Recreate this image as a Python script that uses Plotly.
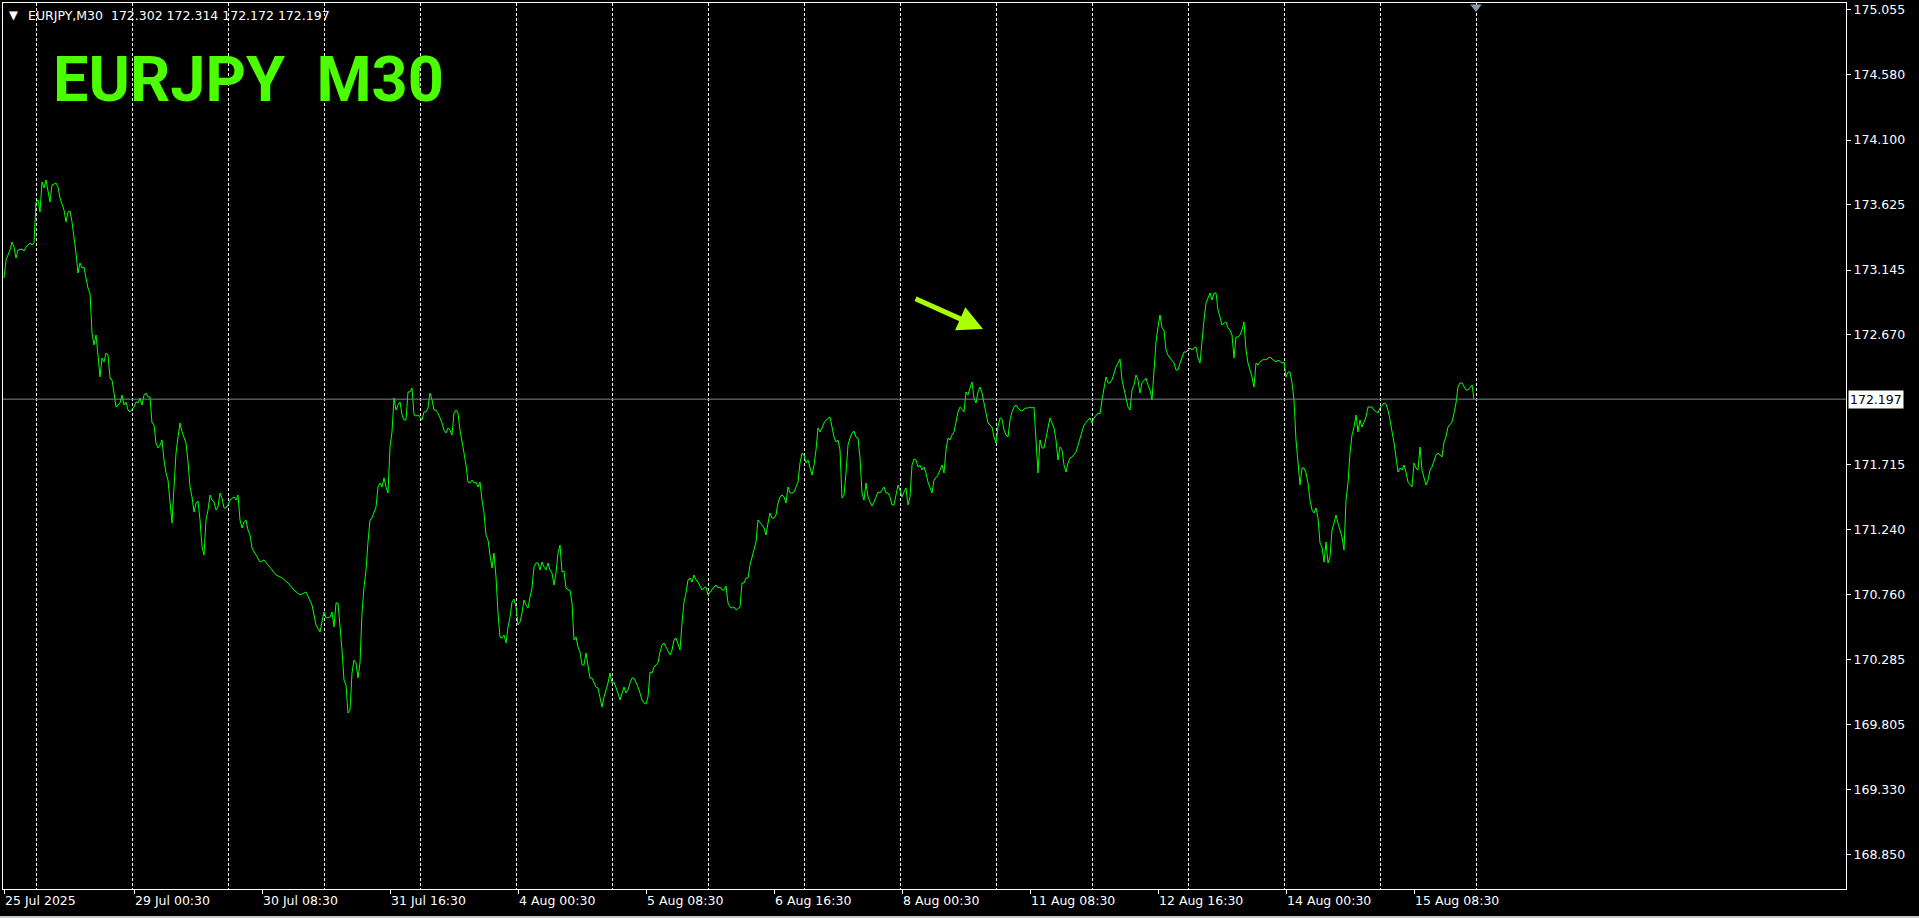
import plotly.graph_objects as go

# ---------------- data (M30 bars, index 0 = 25 Jul 2025 16:00) ----------------
bar_index = [
    0, 1, 3, 4, 5, 6, 7, 9, 10, 11, 13, 14, 15, 16, 17, 18, 19, 20, 21, 23, 24, 26, 27, 28, 30,
    31, 32, 33, 34, 35, 36, 37, 38, 39, 40, 41, 42, 43, 44, 45, 46, 47, 48, 49, 50, 51, 52, 53,
    54, 55, 56, 57, 58, 59, 60, 61, 62, 63, 65, 66, 67, 68, 69, 70, 71, 72, 73, 74, 75, 76, 77,
    78, 79, 80, 81, 82, 83, 84, 85, 86, 87, 88, 89, 90, 91, 92, 93, 94, 95, 96, 97, 98, 99, 100,
    101, 102, 103, 104, 105, 106, 107, 108, 109, 110, 111, 112, 113, 115, 116, 117, 118, 119,
    120, 121, 122, 123, 124, 126, 128, 130, 133, 136, 139, 142, 145, 148, 151, 154, 156, 158,
    160, 161, 163, 164, 165, 166, 167, 168, 169, 170, 171, 172, 173, 174, 175, 176, 177, 178,
    179, 180, 181, 182, 183, 184, 185, 186, 187, 188, 189, 190, 191, 192, 193, 194, 195, 196,
    197, 198, 199, 200, 201, 202, 203, 204, 205, 206, 207, 208, 209, 210, 211, 212, 213, 214,
    215, 216, 217, 218, 219, 220, 221, 222, 223, 224, 225, 226, 227, 228, 229, 230, 231, 232,
    233, 234, 235, 236, 237, 238, 239, 240, 241, 242, 243, 244, 245, 246, 247, 248, 249, 250,
    251, 252, 253, 254, 255, 256, 257, 258, 259, 260, 261, 262, 263, 264, 265, 266, 267, 268,
    269, 270, 271, 272, 273, 274, 275, 276, 277, 278, 279, 280, 281, 282, 283, 284, 285, 286,
    287, 288, 289, 290, 291, 292, 293, 294, 295, 296, 297, 298, 299, 300, 301, 302, 303, 304,
    305, 306, 307, 308, 309, 310, 311, 312, 313, 314, 315, 316, 317, 318, 319, 320, 321, 322,
    323, 324, 325, 326, 327, 328, 329, 330, 331, 332, 333, 334, 335, 336, 337, 338, 339, 340,
    341, 342, 343, 344, 345, 346, 347, 348, 349, 350, 351, 352, 353, 354, 355, 356, 357, 358,
    359, 360, 361, 362, 363, 364, 365, 366, 367, 368, 369, 370, 371, 372, 373, 374, 375, 376,
    377, 378, 379, 380, 381, 382, 383, 384, 385, 386, 387, 388, 389, 390, 391, 392, 393, 394,
    395, 396, 397, 398, 399, 400, 401, 402, 403, 404, 405, 406, 407, 408, 409, 410, 411, 413,
    415, 416, 417, 418, 419, 420, 421, 422, 423, 424, 425, 426, 427, 428, 429, 430, 431, 432,
    433, 434, 435, 436, 437, 438, 439, 440, 441, 442, 443, 444, 445, 446, 447, 448, 449, 450,
    451, 452, 453, 454, 455, 456, 457, 458, 459, 460, 461, 462, 463, 464, 465, 466, 467, 468,
    469, 470, 471, 472, 473, 474, 475, 476, 477, 478, 479, 480, 481, 482, 483, 484, 485, 486,
    487, 488, 489, 490, 491, 492, 493, 494, 495, 496, 497, 498, 499, 500, 501, 502, 503, 504,
    505, 506, 507, 508, 509, 510, 511, 512, 513, 514, 515, 516, 517, 518, 519, 520, 521, 522,
    523, 525, 526, 527, 528, 529, 530, 531, 532, 533, 534, 536, 537, 538, 539, 540, 542, 543,
    544, 545, 547, 548, 549, 550, 551, 552, 553, 554, 555, 556, 557, 558, 559, 560, 561, 562,
    563, 564, 565, 566, 567, 568, 569, 570, 571, 572, 573, 574, 575, 576, 577, 578, 579, 580,
    581, 582, 583, 584, 585, 586, 587, 588, 589, 590, 591, 592, 593, 594, 595, 596, 597, 598,
    599, 600, 601, 602, 603, 604, 605, 606, 607, 608, 609, 610, 611, 612, 613, 614, 615, 616,
    617, 618, 619, 620, 621, 622, 623, 624, 625, 626, 627, 628, 630, 631, 632, 633, 634, 635,
    636, 637, 638, 639, 640, 641, 642, 643, 644, 645, 646, 647, 648, 649, 650, 651, 652, 653,
    654, 655, 656, 657, 658, 659, 660, 661, 662, 663, 664, 665, 666, 667, 668, 669, 670, 671,
    672, 673, 674, 675, 676, 677, 678, 679, 680, 681, 682, 683, 684, 685, 686, 687, 688, 689,
    690, 691, 692, 693, 694, 695, 696, 697, 698, 699, 700, 701, 702, 703, 704, 705, 706, 707,
    708, 709, 710, 711, 712, 713, 714, 715, 716, 717, 718, 719, 720, 721, 722, 723, 724, 725,
    726, 727, 728, 729, 730, 731, 732, 733, 734, 735,
]

close_price = [
    173.087, 173.219, 173.292, 173.351, 173.314, 173.233, 173.292, 173.300, 173.285, 173.314,
    173.344, 173.329, 173.344, 173.645, 173.659, 173.571, 173.792, 173.748, 173.806, 173.645,
    173.770, 173.784, 173.755, 173.674, 173.586, 173.498, 173.571, 173.579, 173.498, 173.402,
    173.270, 173.123, 173.197, 173.160, 173.167, 173.087, 173.013, 172.976, 172.683, 172.595,
    172.668, 172.521, 172.360, 172.499, 172.470, 172.536, 172.521, 172.352, 172.338, 172.242,
    172.139, 172.154, 172.169, 172.227, 172.154, 172.176, 172.117, 172.103, 172.139, 172.176,
    172.169, 172.205, 172.154, 172.227, 172.242, 172.213, 172.213, 172.022, 172.007, 171.875,
    171.838, 171.860, 171.897, 171.750, 171.655, 171.603, 171.456, 171.287, 171.552, 171.801,
    171.919, 172.022, 171.956, 171.919, 171.875, 171.735, 171.552, 171.479, 171.368, 171.434,
    171.450, 171.310, 171.111, 171.053, 171.310, 171.383, 171.493, 171.456, 171.442, 171.383,
    171.405, 171.508, 171.471, 171.398, 171.398, 171.420, 171.456, 171.479, 171.456, 171.493,
    171.310, 171.251, 171.295, 171.310, 171.236, 171.199, 171.104, 171.053, 171.001, 171.016,
    170.957, 170.906, 170.884, 170.847, 170.795, 170.759, 170.781, 170.685, 170.539, 170.487,
    170.634, 170.590, 170.597, 170.634, 170.524, 170.700, 170.700, 170.539, 170.355, 170.135,
    170.098, 169.892, 169.914, 170.186, 170.281, 170.260, 170.150, 170.260, 170.627, 170.817,
    170.942, 171.148, 171.310, 171.324, 171.361, 171.405, 171.552, 171.581, 171.552, 171.618,
    171.552, 171.508, 171.846, 171.956, 172.205, 172.117, 172.154, 172.176, 172.081, 172.044,
    172.044, 172.250, 172.250, 172.279, 172.081, 172.073, 172.081, 172.059, 172.044, 172.103,
    172.103, 172.132, 172.242, 172.191, 172.117, 172.117, 172.095, 172.059, 172.022, 171.970,
    171.948, 171.985, 171.970, 171.934, 172.095, 172.117, 172.095, 171.970, 171.897, 171.801,
    171.713, 171.588, 171.581, 171.603, 171.581, 171.588, 171.552, 171.588, 171.456, 171.361,
    171.199, 171.163, 171.053, 170.957, 171.067, 170.891, 170.627, 170.450, 170.443, 170.465,
    170.406, 170.524, 170.597, 170.707, 170.729, 170.671, 170.539, 170.560, 170.627, 170.722,
    170.685, 170.663, 170.744, 170.810, 170.964, 170.994, 170.994, 170.942, 171.001, 170.964,
    170.942, 170.994, 170.942, 170.920, 170.832, 170.920, 171.067, 171.126, 170.928, 170.935,
    170.810, 170.795, 170.795, 170.700, 170.428, 170.450, 170.377, 170.340, 170.245, 170.245,
    170.333, 170.245, 170.149, 170.149, 170.120, 170.083, 170.076, 170.010, 169.936, 170.010,
    170.061, 170.113, 170.186, 170.113, 170.120, 170.083, 170.039, 169.988, 170.046, 170.083,
    170.039, 170.061, 170.113, 170.149, 170.149, 170.120, 170.083, 170.039, 169.988, 169.966,
    169.958, 170.010, 170.193, 170.186, 170.230, 170.245, 170.260, 170.340, 170.392, 170.406,
    170.377, 170.340, 170.318, 170.355, 170.428, 170.443, 170.392, 170.355, 170.553, 170.707,
    170.773, 170.869, 170.884, 170.854, 170.906, 170.869, 170.854, 170.818, 170.795, 170.810,
    170.818, 170.759, 170.781, 170.803, 170.818, 170.832, 170.810, 170.818, 170.796, 170.796,
    170.825, 170.700, 170.671, 170.663, 170.671, 170.649, 170.663, 170.671, 170.847, 170.847,
    170.884, 170.884, 170.979, 171.038, 171.089, 171.148, 171.310, 171.295, 171.273, 171.251,
    171.199, 171.287, 171.361, 171.324, 171.324, 171.346, 171.434, 171.479, 171.493, 171.479,
    171.434, 171.552, 171.508, 171.508, 171.515, 171.552, 171.588, 171.728, 171.801, 171.787,
    171.728, 171.750, 171.691, 171.640, 171.713, 171.824, 171.985, 171.956, 171.985, 172.022,
    172.044, 172.066, 171.919, 171.882, 171.897, 171.824, 171.471, 171.493, 171.655, 171.860,
    171.912, 171.948, 171.963, 171.919, 171.912, 171.765, 171.508, 171.456, 171.581, 171.479,
    171.442, 171.412, 171.442, 171.479, 171.515, 171.508, 171.530, 171.552, 171.508, 171.508,
    171.479, 171.420, 171.420, 171.508, 171.566, 171.530, 171.479, 171.515, 171.544, 171.420,
    171.479, 171.713, 171.757, 171.750, 171.699, 171.713, 171.677, 171.699, 171.655, 171.588,
    171.552, 171.508, 171.603, 171.625, 171.640, 171.677, 171.713, 171.655, 171.824, 171.912,
    171.897, 171.934, 171.956, 172.029, 172.103, 172.139, 172.117, 172.103, 172.250, 172.227,
    172.279, 172.323, 172.205, 172.169, 172.250, 172.286, 172.242, 172.154, 172.095, 172.022,
    172.007, 171.992, 171.919, 171.875, 171.992, 172.059, 172.051, 171.970, 171.934, 171.919,
    172.044, 172.103, 172.139, 172.154, 172.132, 172.117, 172.110, 172.125, 172.132, 172.132,
    172.139, 172.132, 172.139, 171.897, 171.655, 171.897, 171.838, 171.838, 171.919, 171.970,
    172.059, 171.985, 171.897, 171.750, 171.846, 171.824, 171.713, 171.662, 171.728, 171.765,
    171.772, 171.809, 171.860, 171.919, 171.970, 172.007, 172.044, 172.059, 172.022, 172.059,
    172.095, 172.088, 172.191, 172.279, 172.360, 172.316, 172.316, 172.338, 172.389, 172.433,
    172.462, 172.492, 172.338, 172.264, 172.205, 172.139, 172.117, 172.264, 172.301, 172.374,
    172.338, 172.242, 172.316, 172.338, 172.352, 172.301, 172.264, 172.191, 172.411, 172.617,
    172.727, 172.815, 172.720, 172.705, 172.558, 172.521, 172.499, 172.484, 172.462, 172.411,
    172.411, 172.462, 172.506, 172.543, 172.543, 172.558, 172.573, 172.558, 172.573, 172.580,
    172.499, 172.462, 172.631, 172.778, 172.903, 172.947, 172.976, 172.925, 172.976, 172.976,
    172.852, 172.800, 172.741, 172.756, 172.764, 172.720, 172.705, 172.668, 172.499, 172.653,
    172.653, 172.668, 172.705, 172.764, 172.558, 172.462, 172.411, 172.360, 172.286, 172.462,
    172.448, 172.470, 172.492, 172.484, 172.499, 172.506, 172.492, 172.484, 172.470, 172.484,
    172.470, 172.462, 172.470, 172.360, 172.396, 172.396, 172.316, 172.191, 171.897, 171.728,
    171.567, 171.691, 171.691, 171.655, 171.581, 171.456, 171.383, 171.361, 171.398, 171.324,
    171.141, 171.111, 171.001, 171.148, 170.994, 171.038, 171.236, 171.287, 171.346, 171.287,
    171.236, 171.185, 171.089, 171.456, 171.581, 171.801, 171.934, 171.992, 172.081, 171.956,
    172.044, 171.992, 172.029, 172.066, 172.139, 172.139, 172.139, 172.117, 172.103, 172.095,
    172.132, 172.154, 172.169, 172.161, 172.117, 172.044, 171.970, 171.875, 171.772, 171.662,
    171.691, 171.677, 171.713, 171.662, 171.588, 171.566, 171.552, 171.728, 171.691, 171.677,
    171.846, 171.677, 171.625, 171.566, 171.603, 171.677, 171.699, 171.750, 171.787, 171.801,
    171.787, 171.772, 171.882, 171.919, 171.992, 172.007, 172.029, 172.095, 172.169, 172.286,
    172.316, 172.316, 172.286, 172.264, 172.264, 172.286, 172.301, 172.197,
]

# day separators (bar index of each day's 00:00) and time-axis labels
day_start_bars = [16, 64, 112, 160, 208, 256, 304, 352, 400, 448, 496, 544, 592, 640, 688, 736]
x_tick_bars = [0, 65, 129, 193, 257, 321, 385, 449, 513, 577, 641, 705]
x_tick_labels = ["25 Jul 2025", "29 Jul 00:30", "30 Jul 08:30", "31 Jul 16:30", "4 Aug 00:30",
                 "5 Aug 08:30", "6 Aug 16:30", "8 Aug 00:30", "11 Aug 08:30", "12 Aug 16:30",
                 "14 Aug 00:30", "15 Aug 08:30"]

y_tick_values = [175.055, 174.580, 174.100, 173.625, 173.145, 172.670, 171.715, 171.240,
                 170.760, 170.285, 169.805, 169.330, 168.850]
y_tick_labels = ["175.055", "174.580", "174.100", "173.625", "173.145", "172.670", "171.715",
                 "171.240", "170.760", "170.285", "169.805", "169.330", "168.850"]

symbol = "EURJPY"
timeframe = "M30"
ohlc = ["172.302", "172.314", "172.172", "172.197"]
last_price = 172.197
shift_marker_bar = 736

# annotation arrow (tip in data coords)
arrow_tip_bar = 489.5
arrow_tip_price = 172.712

# ---------------- figure ----------------
X_RANGE = [-0.5, 921]
Y_RANGE = [168.600, 175.106]
LABEL_FONT = dict(family="DejaVu Sans", size=12.5, color="white")

fig = go.Figure()

fig.add_trace(go.Scatter(
    x=bar_index, y=close_price, mode="lines",
    line=dict(color="#00ff00", width=1), hoverinfo="skip",
))

fig.add_trace(go.Scatter(
    x=[shift_marker_bar], y=[Y_RANGE[1] - 0.03], mode="markers",
    marker=dict(symbol="triangle-down", size=10, color="#8a96a3"),
    cliponaxis=False, hoverinfo="skip",
))

# bid line
fig.add_shape(type="line", xref="paper", x0=0, x1=1, yref="y", y0=last_price, y1=last_price,
              line=dict(color="#778899", width=1), layer="above")

# thin window border strip along the very bottom edge
fig.add_shape(type="rect", xref="paper", yref="paper", x0=-0.01, x1=1.05, y0=-0.0305,
              y1=-0.034, line=dict(width=0), fillcolor="#c8c8c8", layer="above")

nb = "\u00a0"
annotations = [
    dict(xref="paper", yref="paper", x=0, y=1, xshift=4, yshift=-12, xanchor="left",
         yanchor="middle", text="\u25bc", showarrow=False,
         font=dict(family="DejaVu Sans", size=11.5, color="white")),
    dict(xref="paper", yref="paper", x=0, y=1, xshift=23, yshift=-12, xanchor="left",
         yanchor="middle", text=f"{symbol},{timeframe}{nb}{nb}" + nb.join(ohlc), showarrow=False,
         font=LABEL_FONT),
    dict(xref="paper", yref="paper", x=0, y=1, xshift=48, yshift=-76, xanchor="left",
         yanchor="middle", text=f"{symbol}{nb}{nb}{timeframe}", showarrow=False,
         font=dict(family="Roboto", size=63, color="#4cff00", weight=700)),
    dict(xref="paper", yref="y", x=1, y=last_price, xanchor="left", yanchor="middle", xshift=2,
         text=f"{last_price:.3f}", showarrow=False, bgcolor="white", borderpad=1,
         font=dict(family="DejaVu Sans", size=12.5, color="black")),
    dict(xref="x", yref="y", x=arrow_tip_bar, y=arrow_tip_price, ax=-69, ay=-31, text="",
         showarrow=True, arrowhead=2, arrowsize=1, arrowwidth=5, arrowcolor="#aaff00",
         standoff=0),
]

fig.update_layout(
    width=1919, height=918,
    margin=dict(l=3, r=73, t=3, b=29, autoexpand=False),
    paper_bgcolor="black", plot_bgcolor="black",
    showlegend=False,
    annotations=annotations,
    xaxis=dict(
        range=X_RANGE, tickmode="array", tickvals=x_tick_bars, ticktext=x_tick_labels,
        ticks="outside", ticklen=4, tickcolor="white", tickwidth=1,
        ticklabelposition="outside right", tickfont=LABEL_FONT,
        showgrid=False, zeroline=False,
        showline=True, mirror=True, linecolor="white", linewidth=1,
        minor=dict(tickmode="array", tickvals=day_start_bars, showgrid=True,
                   gridcolor="white", griddash="3px,2px", gridwidth=1, ticks=""),
        fixedrange=True,
    ),
    yaxis=dict(
        range=Y_RANGE, side="right", tickmode="array", tickvals=y_tick_values,
        ticktext=y_tick_labels, ticks="outside", ticklen=4, tickcolor="white",
        tickfont=LABEL_FONT, showgrid=False, zeroline=False,
        showline=True, mirror=True, linecolor="white", linewidth=1, fixedrange=True,
    ),
)

fig.write_html("out.html", config={"displayModeBar": False},
               post_script="document.body.style.margin='0';document.body.style.overflow='hidden';")
